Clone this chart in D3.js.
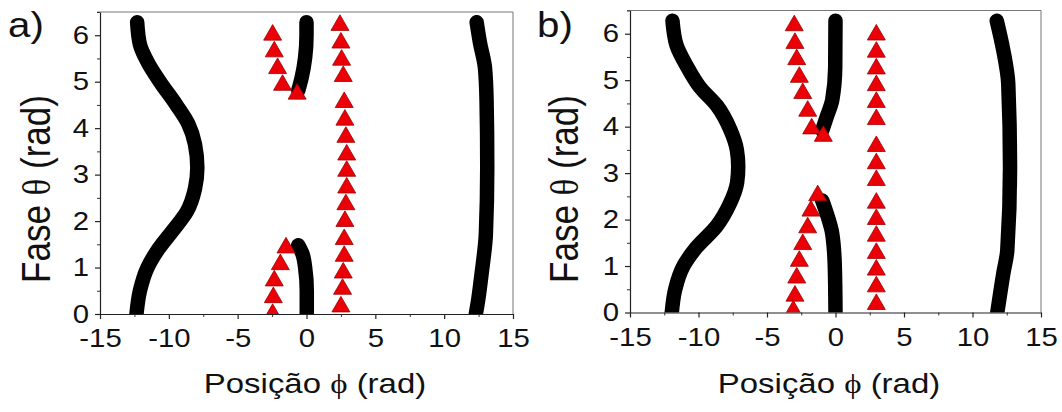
<!DOCTYPE html>
<html>
<head>
<meta charset="utf-8">
<script src="https://cdn.jsdelivr.net/npm/d3@7"></script>
<style>
  body { margin: 0; background: #fff; }
  svg { display: block; }
  text { font-family: Arial, "Liberation Sans", sans-serif; fill: #111; }
</style>
</head>
<body>
<svg id="chart" width="1062" height="412"></svg>
<script>
// values, as [posicao phi, fase theta]

// panel a) black curves
const aCurveLeft = [[-12.35,0],[-12.1,0.5],[-11.55,1.0],[-10.75,1.4],[-9.7,1.8],[-8.7,2.2],[-8.1,2.7],[-7.93,3.15],
  [-8.1,3.65],[-8.6,4.1],[-9.45,4.5],[-10.65,5.0],[-11.5,5.4],[-12.1,5.8],[-12.3,6.28]];
const aCurveTop = [[-0.6,4.81],[-0.35,5.09],[-0.1,5.52],[0,6.0],[0,6.28]];
const aCurveBottom = [[0.02,0],[0.02,0.5],[-0.1,1.0],[-0.3,1.3],[-0.6,1.48]];
const aCurveRight = [[12.3,0],[12.47,0.3],[12.72,0.87],[13.03,1.73],[13.13,3.16],[13.08,4.59],[12.96,5.31],[12.6,5.84],[12.36,6.28]];

// panel a) red triangles
const aTriLeft = [[-2.46,6.06],[-2.34,5.70],[-2.10,5.34],[-1.74,4.98],[-0.68,4.79],
  [-1.49,1.48],[-1.90,1.12],[-2.34,0.77],[-2.41,0.41],[-2.46,0.05]];
const aTriRight = [[2.43,6.27],[2.50,5.89],[2.55,5.52],[2.67,5.17],[2.74,4.61],[2.79,4.23],[2.86,3.86],[2.92,3.48],
  [2.92,3.13],[2.92,2.77],[2.86,2.41],[2.79,2.05],[2.74,1.66],[2.74,1.30],[2.67,0.94],[2.62,0.59],[2.50,0.21]];

// panel b) black curves
const bCurveLeft = [[-11.95,0],[-11.7,0.5],[-11.1,1.0],[-10.15,1.4],[-8.7,1.85],[-7.7,2.35],[-7.18,2.8],[-7.1,3.14],
  [-7.2,3.5],[-7.7,3.95],[-8.65,4.45],[-9.9,4.85],[-10.85,5.3],[-11.6,5.75],[-11.9,6.28]];
const bCurveTop = [[-0.97,3.92],[-0.64,4.21],[-0.24,4.57],[-0.02,5.28],[0,6.28]];
const bCurveBottom = [[0,0],[-0.05,0.99],[-0.24,1.70],[-0.64,2.13],[-0.97,2.41]];
const bCurveRight = [[11.81,0],[12.25,0.84],[12.54,1.34],[12.74,3.13],[12.61,4.92],[12.25,5.64],[11.77,6.28]];

// panel b) red triangles
const bTriLeft = [[-3.01,6.23],[-2.96,5.85],[-2.83,5.50],[-2.64,5.12],[-2.39,4.77],[-2.03,4.39],[-1.74,4.01],[-0.89,3.85],
  [-1.30,2.57],[-1.79,2.24],[-2.03,1.88],[-2.39,1.52],[-2.64,1.16],[-2.83,0.80],[-2.96,0.41],[-3.08,0.09]];
const bTriRight = [[2.98,6.03],[2.98,5.66],[2.98,5.30],[2.98,4.94],[2.98,4.58],[2.98,4.21],[2.98,3.63],[2.98,3.26],
  [2.98,2.90],[2.98,2.41],[2.98,2.06],[2.98,1.70],[2.98,1.33],[2.98,0.97],[2.98,0.61],[2.98,0.23]];

// axes
const xDomain = [-15, 15];
const yDomain = [0, 6.5];
const xTicks = [-15, -10, -5, 0, 5, 10, 15];
const xMinor = [-12.5, -7.5, -2.5, 2.5, 7.5, 12.5];
const yTicks = [0, 1, 2, 3, 4, 5, 6];
const yMinor = [0.5, 1.5, 2.5, 3.5, 4.5, 5.5, 6.5];

const svg = d3.select('#chart');

const panels = [
  { id: 'a', label: 'a)', left: 100, right: 513, top: 12, bottom: 314,
    labelX: 8, yTitleX: 50, xTitleX: 315,
    curves: [aCurveLeft, aCurveTop, aCurveBottom, aCurveRight], tris: [aTriLeft, aTriRight] },
  { id: 'b', label: 'b)', left: 630, right: 1041, top: 10.5, bottom: 312.5,
    labelX: 537, yTitleX: 578, xTitleX: 829,
    curves: [bCurveLeft, bCurveTop, bCurveBottom, bCurveRight], tris: [bTriLeft, bTriRight] }
];

const tri = d3.symbol().type(d3.symbolTriangle).size(140);

panels.forEach(function (p) {
  const x = d3.scaleLinear().domain(xDomain).range([p.left, p.right]);
  const y = d3.scaleLinear().domain(yDomain).range([p.bottom, p.top]);

  svg.append('clipPath').attr('id', 'clip-' + p.id)
    .append('rect')
    .attr('x', p.left).attr('y', p.top)
    .attr('width', p.right - p.left).attr('height', p.bottom - p.top);

  const plot = svg.append('g').attr('clip-path', 'url(#clip-' + p.id + ')');

  const line = d3.line()
    .x(d => x(d[0]))
    .y(d => y(d[1]))
    .curve(d3.curveMonotoneY);

  plot.selectAll('path.curve')
    .data(p.curves)
    .enter()
    .append('path')
    .attr('class', 'curve')
    .attr('d', line)
    .attr('fill', 'none')
    .attr('stroke', '#000')
    .attr('stroke-width', 14.5)
    .attr('stroke-linecap', 'round')
    .attr('stroke-linejoin', 'round');

  plot.selectAll('path.tri')
    .data(p.tris.flat())
    .enter()
    .append('path')
    .attr('class', 'tri')
    .attr('d', tri)
    .attr('transform', d => 'translate(' + x(d[0]) + ',' + (y(d[1]) + 2.5) + ')')
    .attr('fill', '#ec0008')
    .attr('stroke', '#9a0000')
    .attr('stroke-width', 0.8);

  // frame top and right
  svg.append('path')
    .attr('d', 'M' + (p.left - 3) + ',' + p.top + 'H' + p.right + 'V' + p.bottom)
    .attr('fill', 'none')
    .attr('stroke', '#777')
    .attr('stroke-width', 1);

  // minor ticks
  svg.append('g')
    .attr('transform', 'translate(0,' + p.bottom + ')')
    .call(d3.axisBottom(x).tickValues(xMinor).tickSize(3).tickSizeOuter(0).tickFormat(''))
    .call(g => g.select('.domain').remove())
    .selectAll('line').attr('stroke', '#333');
  svg.append('g')
    .attr('transform', 'translate(' + p.left + ',0)')
    .call(d3.axisLeft(y).tickValues(yMinor).tickSize(3).tickSizeOuter(0).tickFormat(''))
    .call(g => g.select('.domain').remove())
    .selectAll('line').attr('stroke', '#333');

  // major axes
  const gx = svg.append('g')
    .attr('transform', 'translate(0,' + p.bottom + ')')
    .call(d3.axisBottom(x).tickValues(xTicks).tickSize(5).tickSizeOuter(0).tickPadding(10)
      .tickFormat(d => String(d)));
  gx.selectAll('text')
    .attr('font-size', 25.5)
    .attr('fill', '#111')
    .attr('transform', 'scale(1.15,1)');

  const gy = svg.append('g')
    .attr('transform', 'translate(' + p.left + ',0)')
    .call(d3.axisLeft(y).tickValues(yTicks).tickSize(5).tickSizeOuter(0).tickPadding(6)
      .tickFormat(d => String(d)));
  gy.selectAll('text')
    .attr('font-size', 25.5)
    .attr('fill', '#111')
    .attr('x', -11 / 1.15)
    .attr('transform', 'scale(1.15,1)');

  [gx, gy].forEach(g => {
    g.select('.domain').attr('stroke', '#222').attr('stroke-width', 1.2);
    g.selectAll('line').attr('stroke', '#222').attr('stroke-width', 1.2);
  });

  // panel label
  svg.append('text')
    .attr('transform', 'translate(' + p.labelX + ',37) scale(1.15,1)')
    .attr('font-size', 35)
    .text(p.label);

  // x title
  const xt = svg.append('text')
    .attr('transform', 'translate(' + p.xTitleX + ',393) scale(1.22,1)')
    .attr('text-anchor', 'middle')
    .attr('font-size', 27);
  xt.append('tspan').text('Posição ');
  xt.append('tspan').attr('font-family', '"Liberation Serif", "DejaVu Serif", serif').text('ϕ');
  xt.append('tspan').text(' (rad)');

  // y title
  const yt = svg.append('text')
    .attr('transform', 'translate(' + p.yTitleX + ',189) scale(1.17,1) rotate(-90)')
    .attr('text-anchor', 'middle')
    .attr('font-size', 35);
  yt.append('tspan').text('Fase ');
  yt.append('tspan').attr('font-family', '"Liberation Serif", "DejaVu Serif", serif').text('θ');
  yt.append('tspan').text(' (rad)');
});
</script>
</body>
</html>
